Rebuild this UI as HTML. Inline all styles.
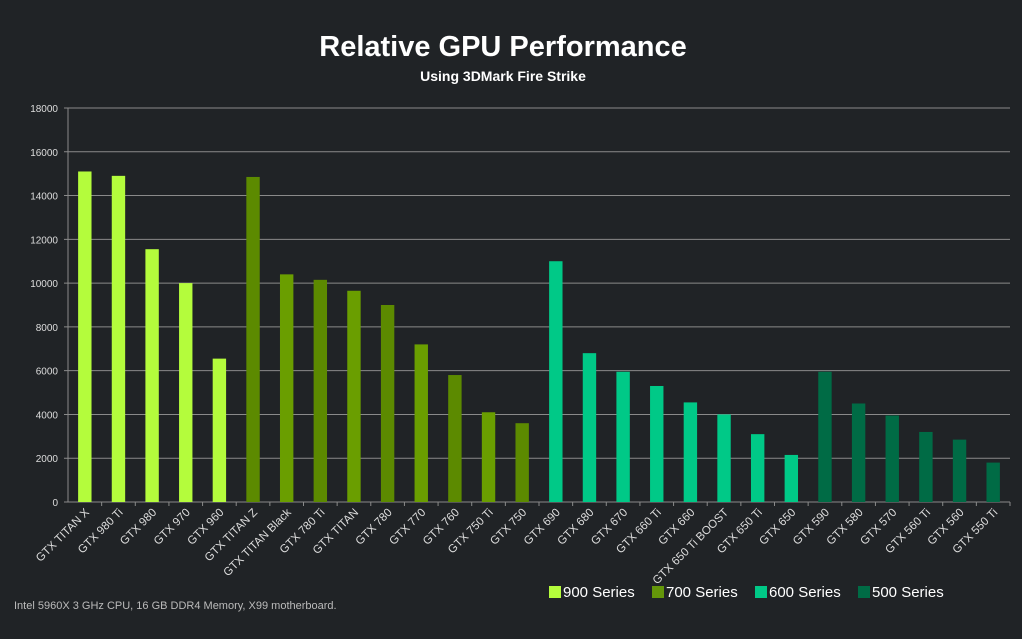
<!DOCTYPE html>
<html><head><style>body{margin:0;background:#202326;}svg{display:block}</style></head><body>
<svg width="1022" height="639" xmlns="http://www.w3.org/2000/svg" font-family="Liberation Sans, sans-serif">
<rect width="1022" height="639" fill="#202326"/>
<text x="503" y="56" fill="#fff" font-size="29" font-weight="bold" text-anchor="middle">Relative GPU Performance</text>
<text x="503" y="81" fill="#fff" font-size="14" font-weight="bold" text-anchor="middle">Using 3DMark Fire Strike</text>
<g id="grid" stroke="#8a8a8a" stroke-width="1"></g>
<g id="bars"></g>
<g id="lbl" fill="#ddd" font-size="11.5"></g>
<text x="14" y="609" fill="#bbb" font-size="11">Intel 5960X  3 GHz CPU, 16 GB DDR4 Memory, X99 motherboard.</text>
<g font-size="15" fill="#fff">
<rect x="549" y="586" width="12" height="12" fill="#b4fc3c"/><text x="563" y="597">900 Series</text>
<rect x="652" y="586" width="12" height="12" fill="#64960a"/><text x="666" y="597">700 Series</text>
<rect x="755" y="586" width="12" height="12" fill="#00c987"/><text x="769" y="597">600 Series</text>
<rect x="858" y="586" width="12" height="12" fill="#006b45"/><text x="872" y="597">500 Series</text>
</g>
<script>
var ns="http://www.w3.org/2000/svg";
function el(p,t,a,txt){var e=document.createElementNS(ns,t);for(var k in a)e.setAttribute(k,a[k]);if(txt)e.textContent=txt;document.getElementById(p).appendChild(e);}
var y0=502,sc=394/18000,x0=68,x1=1010,w=(x1-x0)/28;
for(var v=0;v<=18000;v+=2000){var y=y0-v*sc;el('grid','line',{x1:64,x2:x1,y1:y,y2:y});el('lbl','text',{x:58,y:y+4,'text-anchor':'end','font-size':10},String(v));}
el('grid','line',{x1:x0,x2:x0,y1:108,y2:y0});
var names=["GTX TITAN X","GTX 980 Ti","GTX 980","GTX 970","GTX 960","GTX TITAN Z","GTX TITAN Black","GTX 780 Ti","GTX TITAN","GTX 780","GTX 770","GTX 760","GTX 750 Ti","GTX 750","GTX 690","GTX 680","GTX 670","GTX 660 Ti","GTX 660","GTX 650 Ti BOOST","GTX 650 Ti","GTX 650","GTX 590","GTX 580","GTX 570","GTX 560 Ti","GTX 560","GTX 550 Ti"];
var vals=[15100,14900,11550,10000,6550,14850,10400,10150,9650,9000,7200,5800,4100,3600,11000,6800,5950,5300,4550,4000,3100,2150,5950,4500,3950,3200,2850,1800];
for(var i=0;i<28;i++){var c=i<5?'#b4fc3c':i<14?(i%2?'#5c8a00':'#6a9e00'):i<22?'#00c987':'#006b45';
var cx=x0+w*(i+0.5),h=vals[i]*sc;
el('bars','rect',{x:cx-6.7,y:y0-h,width:13.4,height:h,fill:c});
el('grid','line',{x1:x0+w*(i+1),x2:x0+w*(i+1),y1:y0,y2:y0+4});
el('lbl','text',{x:cx+5,y:y0+11,'text-anchor':'end',transform:'rotate(-45 '+(cx+5)+' '+(y0+11)+')'},names[i]);}
el('grid','line',{x1:x0,x2:x1,y1:y0,y2:y0});
</script>
</svg>
</body></html>
